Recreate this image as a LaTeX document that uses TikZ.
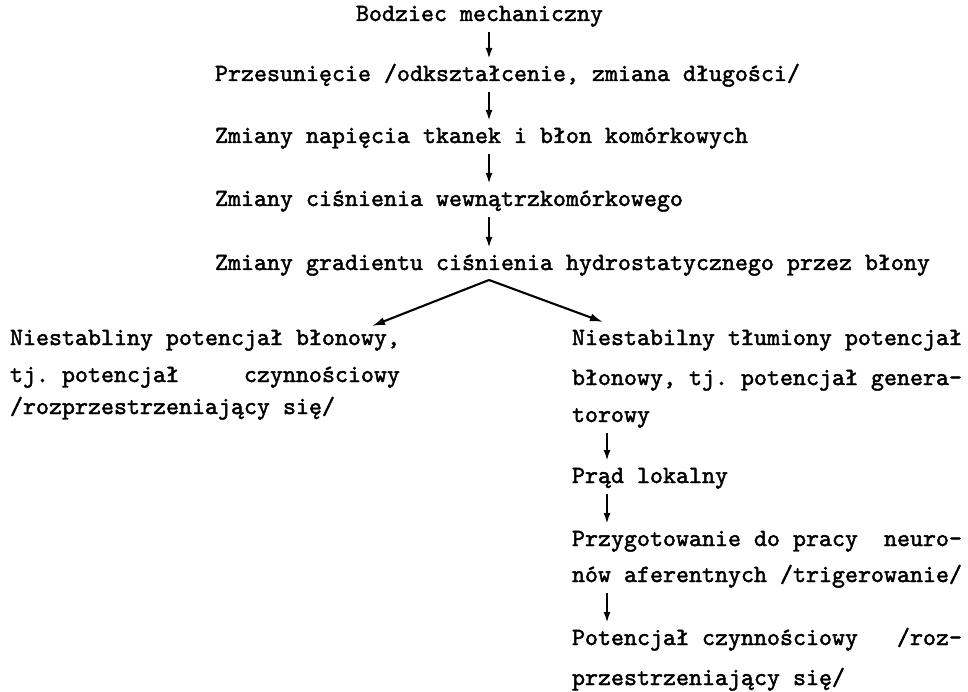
\documentclass[tikz,border=0pt]{standalone}
\usepackage{fontspec}
\newfontfamily\twfont{lmmono10-regular.otf}[FakeBold=1.8]
\usetikzlibrary{arrows.meta,calc}
\begin{document}
\begin{tikzpicture}[x=1pt,y=-1pt,
  txt/.style={font=\twfont\fontsize{24.76pt}{27pt}\selectfont\frenchspacing,
    inner sep=0pt, outer sep=0pt, anchor=base west, text height=15pt, text depth=5pt},
  arr/.style={line width=2.1pt, -{Latex[length=11pt,width=7pt]}, shorten <=6pt, shorten >=7pt},
  brarr/.style={line width=2.1pt, -{Latex[length=13pt,width=8pt]}}]
\useasboundingbox (0,0) rectangle (968,692);
% main column
\node[txt] (m1) at (356,21) {Bodziec mechaniczny};
\node[txt] (m2) at (215,81) {Przesunięcie /odkształcenie, zmiana długości/};
\node[txt] (m3) at (215,143) {Zmiany napięcia tkanek i błon komórkowych};
\node[txt] (m4) at (215,206) {Zmiany ciśnienia wewnątrzkomórkowego};
\node[txt] (m5) at (215,270) {Zmiany gradientu ciśnienia hydrostatycznego przez błony};
\coordinate (ax) at (489,0);
\draw[arr] (m1.south -| ax) -- (m2.north -| ax);
\draw[arr] (m2.south -| ax) -- (m3.north -| ax);
\draw[arr] (m3.south -| ax) -- (m4.north -| ax);
\draw[arr] (m4.south -| ax) -- (m5.north -| ax);
% left block
\node[txt] (l1) at (10,345) {Niestabliny potencjał błonowy,};
\node[txt] (l2) at (10,382) {tj. potencjał~~~~~czynnościowy};
\node[txt] (l3) at (10,414) {/rozprzestrzeniający się/};
% right block
\node[txt] (r1) at (572,345) {Niestabilny tłumiony potencjał};
\node[txt] (r2) at (572,385) {błonowy, tj. potencjał genera-};
\node[txt] (r3) at (572,422) {torowy};
\node[txt] (r4) at (572,483) {Prąd lokalny};
\node[txt] (r5) at (572,546) {Przygotowanie do pracy~~neuro-};
\node[txt] (r6) at (572,582) {nów aferentnych /trigerowanie/};
\node[txt] (r7) at (572,645) {Potencjał czynnościowy~~~/roz-};
\node[txt] (r8) at (572,685) {przestrzeniający się/};
\coordinate (rx) at (607,0);
\draw[arr] (r3.south -| rx) -- (r4.north -| rx);
\draw[arr] (r4.south -| rx) -- (r5.north -| rx);
\draw[arr] (r6.south -| rx) -- (r7.north -| rx);
% branch
\coordinate (apex) at ($(m5.south -| ax)+(0,5)$);
\coordinate (ltip) at ($(l1.north east)+(-28,-4)$);
\coordinate (rtip) at ($(r1.north west)+(31,-8)$);
\draw[brarr] (apex) -- (ltip);
\draw[brarr] (apex) -- (rtip);
\end{tikzpicture}
\end{document}
